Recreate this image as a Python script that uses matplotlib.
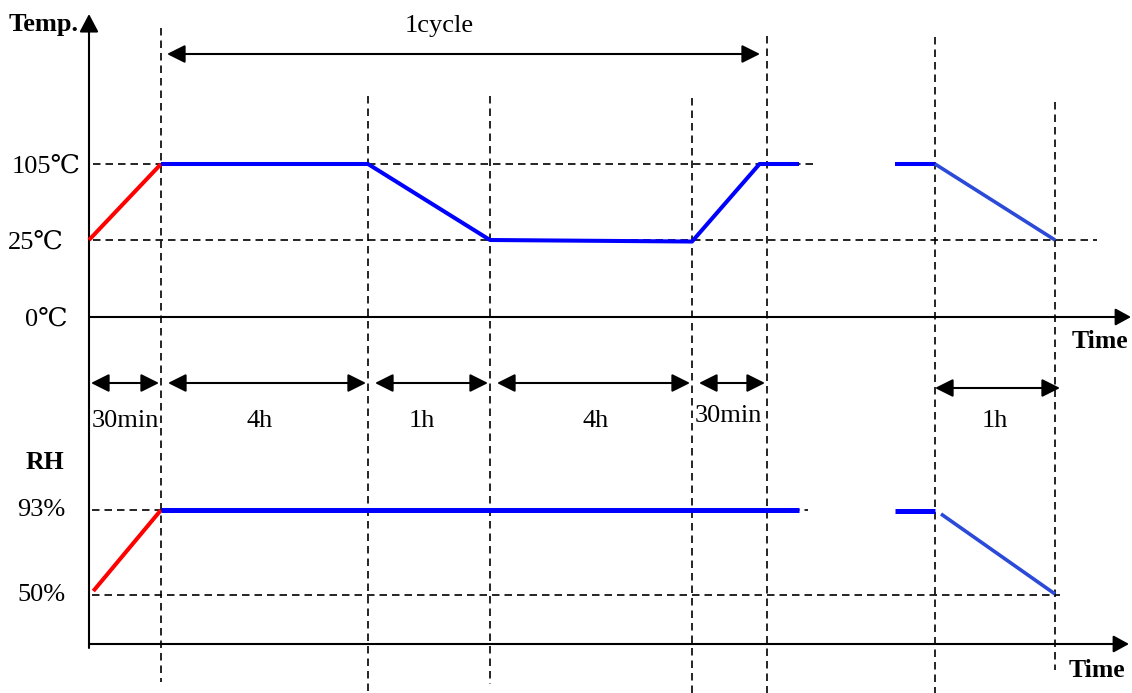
import numpy as np
import matplotlib
matplotlib.use('Agg')
from matplotlib import pyplot as plt
from matplotlib import transforms

plt.rcParams['font.family'] = ['Liberation Serif', 'DejaVu Serif']

# ---- test profile (time in hours, temperature in degC, humidity in %RH) ----
phase_labels = ['30min', '4h', '1h', '4h', '30min']
phase_hours = [0.5, 4.0, 1.0, 4.0, 0.5]
final_label = '1h'
final_hours = 1.0

temp_ticks = [105, 25, 0]
temp_ticklabels = ['105℃', '25℃', '0℃']
rh_ticks = [93, 50]
rh_ticklabels = ['93%', '50%']

ramp_t = [0.0, 0.5]
ramp_temp = [25, 105]
cycle_t = [0.5, 4.5, 5.5, 9.5, 9.95, 10.6]
cycle_temp = [105, 105, 25, 24.5, 105, 105]
final_t = [13.2, 14.0, 15.0]
final_temp = [105, 105, 25]

ramp_rh_t = [0.03, 0.5]
ramp_rh = [52, 93]
cycle_rh_t = [0.5, 10.6]
cycle_rh = [93, 93]
final_rh_t = [13.2, 14.0]
final_rh = [92.5, 92.5]
fall_rh_t = [14.05, 15.0]
fall_rh = [91, 50.5]

# ---- schematic scales (drawing is not to scale, time axis is broken) ----
T_KNOTS = [-0.62, 0.0, 0.5, 4.5, 5.5, 9.5, 10.0, 10.6, 13.2, 14.0, 15.0, 15.64]
X_PIX = [0, 89, 161, 368, 490, 692, 767, 799, 895, 935, 1055, 1132]
TEMP_KNOTS = [-122.4, 0, 25, 105, 277.6]
TEMP_PIX = [0, 376, 453, 529, 693]

def t_fwd(t):
    return np.interp(t, T_KNOTS, X_PIX)

def t_inv(x):
    return np.interp(x, X_PIX, T_KNOTS)

def temp_fwd(v):
    return np.interp(v, TEMP_KNOTS, TEMP_PIX)

def temp_inv(y):
    return np.interp(y, TEMP_PIX, TEMP_KNOTS)

W, H = 1132, 693
fig = plt.figure(figsize=(W / 100, H / 100), dpi=100)

# layout axes in pixels (y down)
lay = fig.add_axes([0, 0, 1, 1])
lay.set_xlim(0, W)
lay.set_ylim(H, 0)
lay.axis('off')

ax_t = fig.add_axes([0, 0, 1, 1])
ax_t.set_xscale('function', functions=(t_fwd, t_inv))
ax_t.set_yscale('function', functions=(temp_fwd, temp_inv))
ax_t.set_xlim(T_KNOTS[0], T_KNOTS[-1])
ax_t.set_ylim(TEMP_KNOTS[0], TEMP_KNOTS[-1])
ax_t.axis('off')
ax_t.patch.set_alpha(0)

ax_h = fig.add_axes([0, 0, 1, 1])
ax_h.set_xscale('function', functions=(t_fwd, t_inv))
ax_h.set_xlim(T_KNOTS[0], T_KNOTS[-1])
ax_h.set_ylim(0.42, 351.0)
ax_h.axis('off')
ax_h.patch.set_alpha(0)

dash = dict(color='k', lw=1.2, dashes=(4.5, 3))
blue = '#0000ff'
blue2 = '#2b4ad8'
red = '#ff0000'
fs = 19

# phase boundaries
bounds = np.concatenate([[0.0], np.cumsum(phase_hours)])
end_t = [final_t[1], final_t[1] + final_hours]
v_t = list(bounds[1:]) + end_t
v_top = [28, 96, 96, 98, 36, 37, 102]
v_bot = [682, 693, 684, 693, 693, 693, 670]
for t, y0, y1 in zip(v_t, v_top, v_bot):
    lay.plot([t_fwd(t)] * 2, [y0, y1], **dash)

# horizontal level lines
tr_t = transforms.blended_transform_factory(lay.transData, ax_t.transData)
ax_t.plot([93, 816], [105, 105], transform=tr_t, **dash)
ax_t.plot([93, 1097], [25, 25], transform=tr_t, **dash)
tr_h = transforms.blended_transform_factory(lay.transData, ax_h.transData)
ax_h.plot([92, 808], [93, 93], transform=tr_h, **dash)
ax_h.plot([92, 1060], [50, 50], transform=tr_h, **dash)

# temperature profile
ax_t.plot(ramp_t, ramp_temp, color=red, lw=2.9, solid_capstyle='butt')
ax_t.plot(cycle_t, cycle_temp, color=blue, lw=2.9, solid_capstyle='butt')
ax_t.plot(final_t[:2], final_temp[:2], color=blue, lw=2.9, solid_capstyle='butt')
ax_t.plot(final_t[1:], final_temp[1:], color=blue2, lw=2.6, solid_capstyle='butt')

# humidity profile
ax_h.plot(ramp_rh_t, ramp_rh, color=red, lw=2.9, solid_capstyle='butt')
ax_h.plot(cycle_rh_t, cycle_rh, color=blue, lw=3.6, solid_capstyle='butt')
ax_h.plot(final_rh_t, final_rh, color=blue, lw=3.6, solid_capstyle='butt')
ax_h.plot(fall_rh_t, fall_rh, color=blue2, lw=2.6, solid_capstyle='butt')

# axes with arrow heads
def arrow(x0, y0, x1, y1, style='-|>', hl=11, hw=5.5, lw=1.5):
    lay.annotate('', xy=(x1, y1), xytext=(x0, y0),
                 arrowprops=dict(arrowstyle='%s,head_length=%g,head_width=%g' % (style, hl, hw),
                                 mutation_scale=1, lw=lw, color='k',
                                 shrinkA=0, shrinkB=0))

arrow(89, 648, 89, 14, hl=11, hw=5.8)
arrow(89, 317, 1131, 317, hl=9.5, hw=5.2)
arrow(89, 644, 1129, 644, hl=9.5, hw=5.2)

# 1 cycle arrow
arrow(167, 54, 760, 54, style='<|-|>', hl=11, hw=5.5)
lay.text(439, 32, '1cycle', fontsize=fs, ha='center', va='baseline')

# phase duration arrows
arr_y = 383
lab_shift = [0, -5, -7, 5, -1]
for i, lab in enumerate(phase_labels):
    xa, xb = t_fwd(bounds[i]), t_fwd(bounds[i + 1])
    inset = 2 if i == 0 else 7
    arrow(xa + inset, arr_y, xb - 2, arr_y, style='<|-|>', hl=11, hw=5.5)
    ly = 422 if i == len(phase_labels) - 1 else 427
    lay.text((xa + xb) / 2 + lab_shift[i], ly, lab, fontsize=fs, ha='center', va='baseline')
xa, xb = t_fwd(end_t[0]), t_fwd(end_t[1])
arrow(xa, 388, xb + 5, 388, style='<|-|>', hl=11, hw=5.5)
lay.text((xa + xb) / 2, 427, final_label, fontsize=fs, ha='center', va='baseline')

# tick labels and axis titles
for v, lab, cx in zip(temp_ticks, temp_ticklabels, [46, 36, 46]):
    yb = H - temp_fwd(v) + 9
    lay.text(cx, yb, lab, fontsize=fs, ha='center', va='baseline')
for v, lab in zip(rh_ticks, rh_ticklabels):
    yb = H - ax_h.transData.transform((0, v))[1] + 6
    lay.text(41, yb, lab, fontsize=fs, ha='center', va='baseline')

lay.text(9, 31, 'Temp.', fontsize=19, fontweight='bold', ha='left', va='baseline')
lay.text(45, 469, 'RH', fontsize=18.5, fontweight='bold', ha='center', va='baseline')
lay.text(1100, 348, 'Time', fontsize=18.5, fontweight='bold', ha='center', va='baseline')
lay.text(1097, 677, 'Time', fontsize=18.5, fontweight='bold', ha='center', va='baseline')

fig.savefig('out.png', dpi=100)
